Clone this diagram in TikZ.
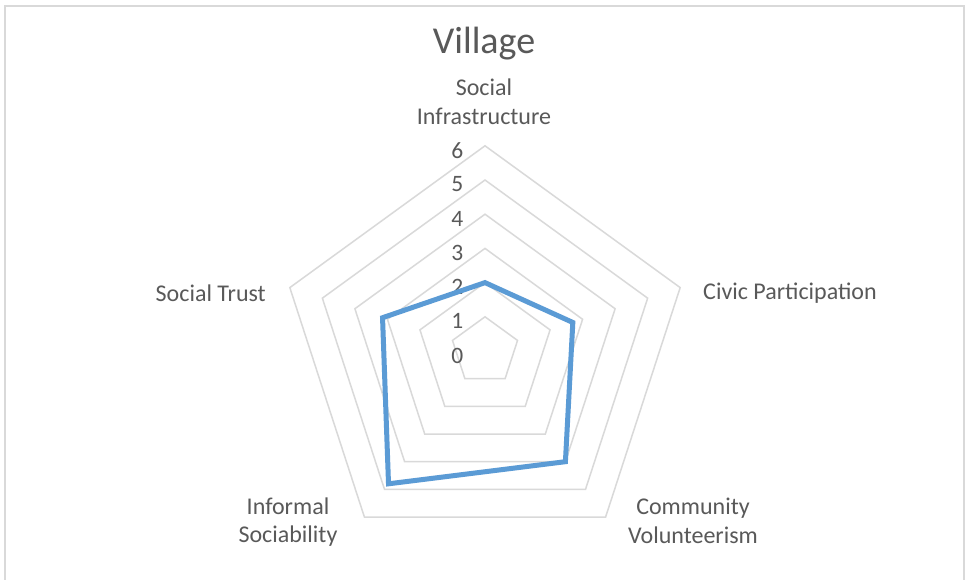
\documentclass[tikz,border=0pt]{standalone}
\usepackage{fontspec}
\setmainfont{Carlito}
\usetikzlibrary{calc}
\definecolor{txt}{HTML}{595959}
\definecolor{grid}{HTML}{D9D9D9}
\definecolor{series}{HTML}{5B9BD5}
\begin{document}
\begin{tikzpicture}[x=1pt,y=1pt,
  gridline/.style={draw=grid,line width=1.5pt,line join=miter},
  serie/.style={draw=series,line width=5pt,line join=miter},
  lbl/.style={text=txt,font=\fontsize{24}{28.5}\selectfont,inner sep=0pt,align=center},
  tick/.style={text=txt,font=\fontsize{23.5}{28}\selectfont,inner sep=0pt,anchor=east},
  ttl/.style={text=txt,font=\fontsize{38}{42}\selectfont,inner sep=0pt}]
\useasboundingbox (0,-579) rectangle (965,0);
\fill[white] (0,-579) rectangle (965,0);
\begin{scope}
\clip (0,-579) rectangle (965,0);
\draw[draw=grid,line width=1.5pt] (5,-6) rectangle (964,-590);
\end{scope}
\coordinate (C) at (485,-351);
\def\ru{34.2}
% grid pentagons
\foreach \k in {1,...,6}{
  \draw[gridline] ($(C)+(90:\k*\ru)$) -- ($(C)+(18:\k*\ru)$) -- ($(C)+(-54:\k*\ru)$) -- ($(C)+(-126:\k*\ru)$) -- ($(C)+(162:\k*\ru)$) -- cycle;
}
% tick labels
\foreach \k in {0,...,6}{
  \node[tick] (t\k) at ($(C)+(-21.5,\k*\ru-4.5)$) {\k};
}
% data
\coordinate (d0) at ($(C)+(90:2*\ru)$);
\coordinate (d1) at ($(C)+(18:2.7*\ru)$);
\coordinate (d2) at ($(C)+(-54:4.0*\ru)$);
\coordinate (d3) at ($(C)+(-126:4.8*\ru)$);
\coordinate (d4) at ($(C)+(162:3.15*\ru)$);
\draw[serie] (d0) -- (d1) -- (d2) -- (d3) -- (d4) -- cycle;
% labels
\node[ttl] (title) at (484,-44) {Village};
\node[lbl] (a0) at (484,-102) {Social\\Infrastructure};
\node[lbl,anchor=west] (a1) at (703,-293) {Civic Participation};
\node[lbl] (a2) at (693,-521) {Community\\Volunteerism};
\node[lbl] (a3) at (288,-522) {Informal\\Sociability};
\node[lbl,anchor=east] (a4) at (266,-293) {Social Trust};
\end{tikzpicture}
\end{document}
